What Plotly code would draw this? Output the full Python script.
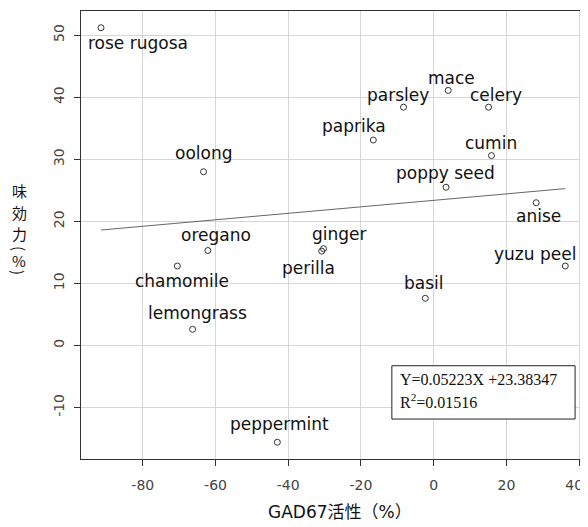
import plotly.graph_objects as go

names = ["rose rugosa", "oolong", "oregano", "chamomile", "lemongrass", "peppermint",
         "mace", "parsley", "celery", "paprika", "cumin", "poppy seed", "anise",
         "ginger", "perilla", "yuzu peel", "basil"]
gad67 = [-91.5, -63.3, -62.1, -70.5, -66.3, -43.0,
         4.0, -8.3, 15.1, -16.6, 15.9, 3.4, 28.2,
         -30.3, -30.8, 36.2, -2.3]
taste = [51.2, 28.0, 15.3, 12.8, 2.6, -15.6,
         41.1, 38.4, 38.4, 33.1, 30.6, 25.5, 23.0,
         15.6, 15.2, 12.8, 7.6]

slope = 0.05223
intercept = 23.38347
r2 = 0.01516

x_ticks = [-80, -60, -40, -20, 0, 20, 40]
y_ticks = [-10, 0, 10, 20, 30, 40, 50]
x_title = "GAD67活性（%）"
y_title_chars = ["味", "効", "力", "(", "%", ")"]

# label placement offsets in pixels (dx, dy; positive dy = down)
label_offsets = {
    "rose rugosa": (37, 15), "oolong": (0, -19), "oregano": (8, -16),
    "chamomile": (5, 15), "lemongrass": (5, -16), "peppermint": (2, -18),
    "mace": (3, -12), "parsley": (-5, -12), "celery": (7, -12),
    "paprika": (-19, -14), "cumin": (0, -13), "poppy seed": (-1, -14),
    "anise": (2, 13), "ginger": (16, -15), "perilla": (-13, 17),
    "yuzu peel": (-30, -12), "basil": (-1, -15),
}

# the page body adds an 8px margin, so the figure is drawn 8px smaller and shifted
PAGE_OFF = 8
W, H = 588 - PAGE_OFF, 527 - PAGE_OFF
ml, mr, mt, mb = 81 - PAGE_OFF, 6, 11 - PAGE_OFF, 68
pw, ph = W - ml - mr, H - mt - mb


def px2paper(px, py):
    # px, py are screen pixel positions
    return (px - PAGE_OFF - ml) / pw, 1 - (py - PAGE_OFF - mt) / ph


fig = go.Figure()

xmin, xmax = min(gad67), max(gad67)
fig.add_trace(go.Scatter(
    x=[xmin, xmax], y=[slope * xmin + intercept, slope * xmax + intercept],
    mode="lines", line=dict(color="#666666", width=1), hoverinfo="skip"))

fig.add_trace(go.Scatter(
    x=gad67, y=taste, mode="markers",
    marker=dict(symbol="circle-open", size=6, color="#333333", line=dict(width=1)),
    text=names, hoverinfo="text"))

label_font = dict(family="DejaVu Sans", size=17, color="#111111")
for n, xv, yv in zip(names, gad67, taste):
    dx, dy = label_offsets[n]
    fig.add_annotation(x=xv, y=yv, xref="x", yref="y", text=n, showarrow=False,
                       xanchor="center", yanchor="middle",
                       xshift=dx, yshift=-dy, font=label_font)

# equation box
fig.add_shape(type="rect", xref="x", yref="y", x0=-11.5, x1=38.9, y0=-11.86, y1=-3.27,
              line=dict(color="#222222", width=1), fillcolor="white", layer="above")
eq_font = dict(family="Liberation Serif, Times New Roman, serif", size=16, color="#111111")
fig.add_annotation(x=-9.8, y=-5.5, xref="x", yref="y", xanchor="left", yanchor="middle",
                   text=f"Y={slope}X +{intercept}", showarrow=False, font=eq_font)
fig.add_annotation(x=-9.8, y=-9.0, xref="x", yref="y", xanchor="left", yanchor="middle",
                   text=f"R<sup>2</sup>={r2}", showarrow=False, font=eq_font)

# axis titles
title_font = dict(family="DejaVu Sans, Noto Sans CJK JP", size=17, color="#111111")
tx, ty = px2paper(340, 512)
fig.add_annotation(x=tx, y=ty, xref="paper", yref="paper", text=x_title,
                   xanchor="center", yanchor="middle",
                   showarrow=False, font=title_font)
y_char_pos = [190, 212, 233, 248, 260, 272]
for ch, py in zip(y_title_chars, y_char_pos):
    ax, ay = px2paper(19, py)
    fig.add_annotation(x=ax, y=ay, xref="paper", yref="paper", text=ch,
                       xanchor="center", yanchor="middle",
                       textangle=90 if ch in "()" else 0,
                       showarrow=False, font=dict(family="Noto Sans CJK JP", size=15,
                                                  color="#111111"))

# last tick label padded so that it stays inside the window like the reference
x_ticktext = [str(v) for v in x_ticks]
x_ticktext[-1] = x_ticktext[-1] + "\u2002\u2009"

tick_font = dict(family="DejaVu Sans", size=14, color="#444444")
fig.update_layout(
    width=W, height=H, margin=dict(l=ml, r=mr, t=mt, b=mb, autoexpand=False),
    plot_bgcolor="white", paper_bgcolor="white", showlegend=False,
    xaxis=dict(range=[-97.0, 40.8], tickvals=x_ticks, ticktext=x_ticktext,
               showgrid=True, gridcolor="#d6d6d6", automargin=False,
               gridwidth=1, zeroline=False, showline=True, linecolor="#333333", mirror=True,
               ticks="outside", ticklen=6, tickcolor="#333333", tickfont=tick_font,
               ticklabelstandoff=7, ticklabeloverflow="allow"),
    yaxis=dict(range=[-18.3, 53.9], tickvals=y_ticks, ticktext=[str(v) for v in y_ticks],
               showgrid=True, gridcolor="#d6d6d6", automargin=False,
               gridwidth=1, zeroline=False, showline=True, linecolor="#333333", mirror=True,
               ticks="outside", ticklen=6, tickcolor="#333333", tickfont=tick_font,
               tickangle=-90, ticklabelstandoff=4),
)

fig.write_html("out.html")
